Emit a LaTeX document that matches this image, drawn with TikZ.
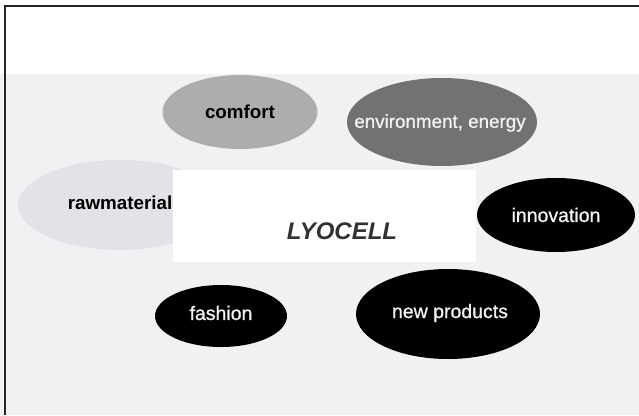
\documentclass[tikz,border=0pt]{standalone}
\usepackage{fontspec}
\setmainfont{Liberation Sans}
\newfontfamily\medfont[FakeBold=0.9]{Liberation Sans}
\usetikzlibrary{shapes.geometric}
\definecolor{bgcol}{HTML}{F1F1F4}
\definecolor{comfortcol}{HTML}{ADADAD}
\definecolor{envcol}{HTML}{727272}
\definecolor{rawcol}{HTML}{E2E3E8}
\definecolor{lyocol}{HTML}{333333}
\definecolor{lighttext}{HTML}{F2F2F2}
\begin{document}
\begin{tikzpicture}[x=1pt,y=-1pt,
  blob/.style={ellipse, inner sep=0pt, draw=none},
  regtext/.style={font=\medfont\fontsize{19.5}{20}\selectfont},
  boldtext/.style={font=\bfseries\fontsize{18.8}{20}\selectfont},
  darkblob/.style={blob, fill=black},
  border/.style={line width=2pt, draw=black!85}
]
\useasboundingbox (0,0) rectangle (639,415);
\fill[white] (0,0) rectangle (639,74);
\fill[bgcol] (0,74) rectangle (639,415);
\coordinate (tl) at (4.5,5.5);
\coordinate (tr) at (639,5.5);
\coordinate (bl) at (4.5,415);
\draw[border] (tr) -- (tl) -- (bl);

% ellipses
\node[blob, fill=rawcol, minimum width=204pt, minimum height=90pt] (raw) at (120,205) {};
\node[boldtext, text=black] (rawt) at (120,203) {rawmaterial};

\node[blob, fill=comfortcol, minimum width=155pt, minimum height=74pt] (comfort) at (240,112) {};
\node[boldtext, text=black] (comfortt) at (240,112) {comfort};

\node[blob, fill=envcol, minimum width=190pt, minimum height=88pt] (env) at (442,122) {};
\node[font=\medfont\fontsize{18.8}{20}\selectfont, text=lighttext] (envt) at (440,123) {environment, energy};

\node[darkblob, minimum width=158pt, minimum height=74pt] (innov) at (556,215) {};
\node[regtext, text=lighttext] (innovt) at (556,215) {innovation};

\node[darkblob, minimum width=132pt, minimum height=62pt] (fashion) at (221,316) {};
\node[regtext, text=lighttext] (fashiont) at (221,313) {fashion};

\node[darkblob, minimum width=184pt, minimum height=90pt] (newp) at (448,314) {};
\node[regtext, text=lighttext] (newpt) at (450,313) {new products};

% central box
\node[fill=white, inner sep=0pt, minimum width=303pt, minimum height=92pt] (box) at (324.5,216) {};
\node[font=\bfseries\itshape\fontsize{24}{26}\selectfont, text=lyocol] (lyo) at (342,231) {LYOCELL};
\end{tikzpicture}
\end{document}
